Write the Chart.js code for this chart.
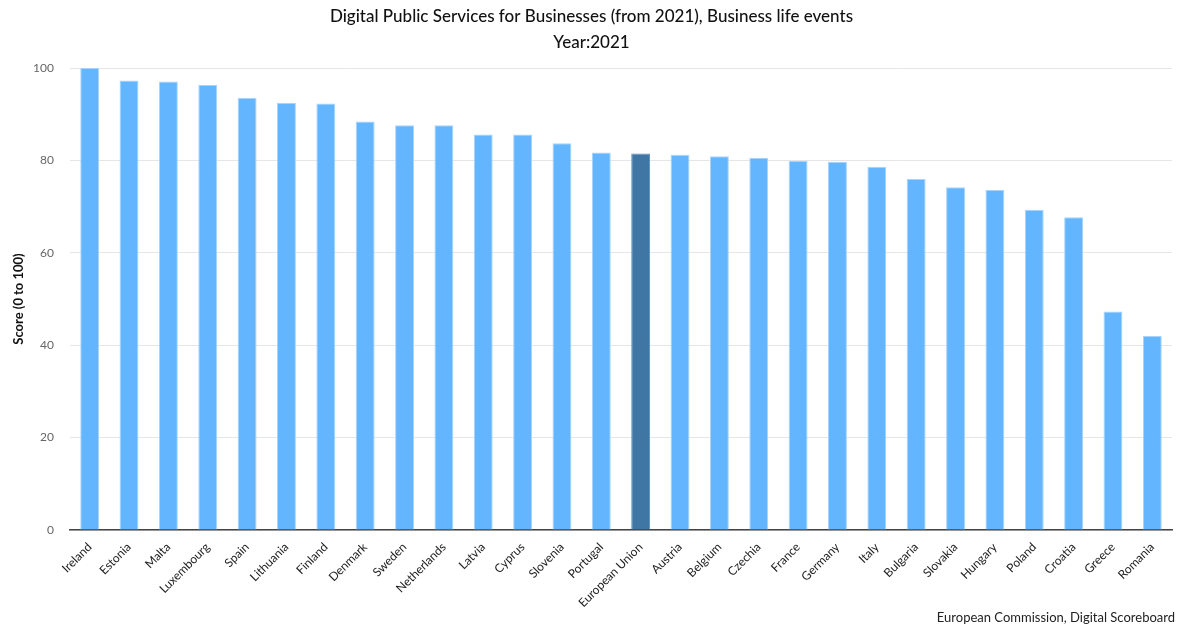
<!DOCTYPE html>
<html>
<head>
<meta charset="utf-8">
<title>Digital Public Services for Businesses</title>
<script src="https://cdn.jsdelivr.net/npm/chart.js@4.4.1/dist/chart.umd.min.js"></script>
<style>
  html, body { margin: 0; padding: 0; background: #ffffff; }
  #wrap { position: relative; width: 1177px; height: 627px; }
</style>
</head>
<body>
<div id="wrap"><canvas id="chart" width="1177" height="627"></canvas></div>
<script>
// Countries, ordered by score
const countries = [
  'Ireland', 'Estonia', 'Malta', 'Luxembourg', 'Spain', 'Lithuania', 'Finland',
  'Denmark', 'Sweden', 'Netherlands', 'Latvia', 'Cyprus', 'Slovenia', 'Portugal',
  'European Union', 'Austria', 'Belgium', 'Czechia', 'France', 'Germany', 'Italy',
  'Bulgaria', 'Slovakia', 'Hungary', 'Poland', 'Croatia', 'Greece', 'Romania'
];

// Score (0 to 100), 2021
const scores = [
  100, 97.3, 97.1, 96.4, 93.5, 92.5, 92.3,
  88.4, 87.6, 87.6, 85.6, 85.6, 83.7, 81.7,
  81.5, 81.2, 80.9, 80.6, 79.9, 79.7, 78.6,
  76.0, 74.2, 73.6, 69.3, 67.7, 47.3, 42.0
];

const yTicks = [0, 20, 40, 60, 80, 100];

const titleLines = [
  'Digital Public Services for Businesses (from 2021), Business life events',
  'Year:2021'
];
const yAxisTitle = 'Score (0 to 100)';
const creditText = 'European Commission, Digital Scoreboard';

const FONT = 'Lato, "Open Sans", sans-serif';
const BAR = '#63b5fe';
const BAR_EDGE = '#a6d4ff';
const EU_BAR = '#3f76a4';
const EU_EDGE = '#5a8cb6';

const fills = countries.map(c => c === 'European Union' ? EU_BAR : BAR);
const edges = countries.map(c => c === 'European Union' ? EU_EDGE : BAR_EDGE);

// Source line in the lower right corner
const creditPlugin = {
  id: 'credit',
  afterDraw(chart) {
    const ctx = chart.ctx;
    ctx.save();
    ctx.font = '13px ' + FONT;
    ctx.fillStyle = '#222';
    ctx.textAlign = 'right';
    ctx.textBaseline = 'middle';
    ctx.fillText(creditText, 1175, 618);
    ctx.restore();
  }
};

new Chart(document.getElementById('chart'), {
  type: 'bar',
  data: {
    labels: countries,
    datasets: [{
      data: scores,
      backgroundColor: fills,
      borderColor: edges,
      borderWidth: 1,
      categoryPercentage: 1,
      barPercentage: 0.48
    }]
  },
  options: {
    responsive: false,
    animation: false,
    layout: { padding: { left: 11, right: 5, top: 0, bottom: 0 } },
    plugins: {
      legend: { display: false },
      tooltip: { enabled: false },
      title: {
        display: true,
        text: titleLines,
        color: '#111',
        font: { family: FONT, size: 17, weight: '500', lineHeight: 1.5 },
        padding: { top: 4, bottom: 13 }
      }
    },
    scales: {
      x: {
        grid: { display: false },
        border: { display: true, color: '#444', width: 1.5 },
        ticks: {
          color: '#222',
          font: { family: FONT, size: 12 },
          minRotation: 45,
          maxRotation: 45,
          autoSkip: false,
          padding: 2
        },
        afterFit(scale) { scale.height = 97; }
      },
      y: {
        min: 0,
        max: 100,
        afterBuildTicks(scale) { scale.ticks = yTicks.map(v => ({ value: v })); },
        grid: { color: '#e6e6e6', lineWidth: 1, drawTicks: false },
        border: { display: false },
        title: {
          display: true,
          text: yAxisTitle,
          color: '#111',
          font: { family: FONT, size: 13, weight: 'bold' },
          padding: 0
        },
        ticks: {
          color: '#666',
          font: { family: FONT, size: 12 },
          padding: 16
        },
        afterFit(scale) { scale.width = 59; }
      }
    }
  },
  plugins: [creditPlugin]
});
</script>
</body>
</html>
